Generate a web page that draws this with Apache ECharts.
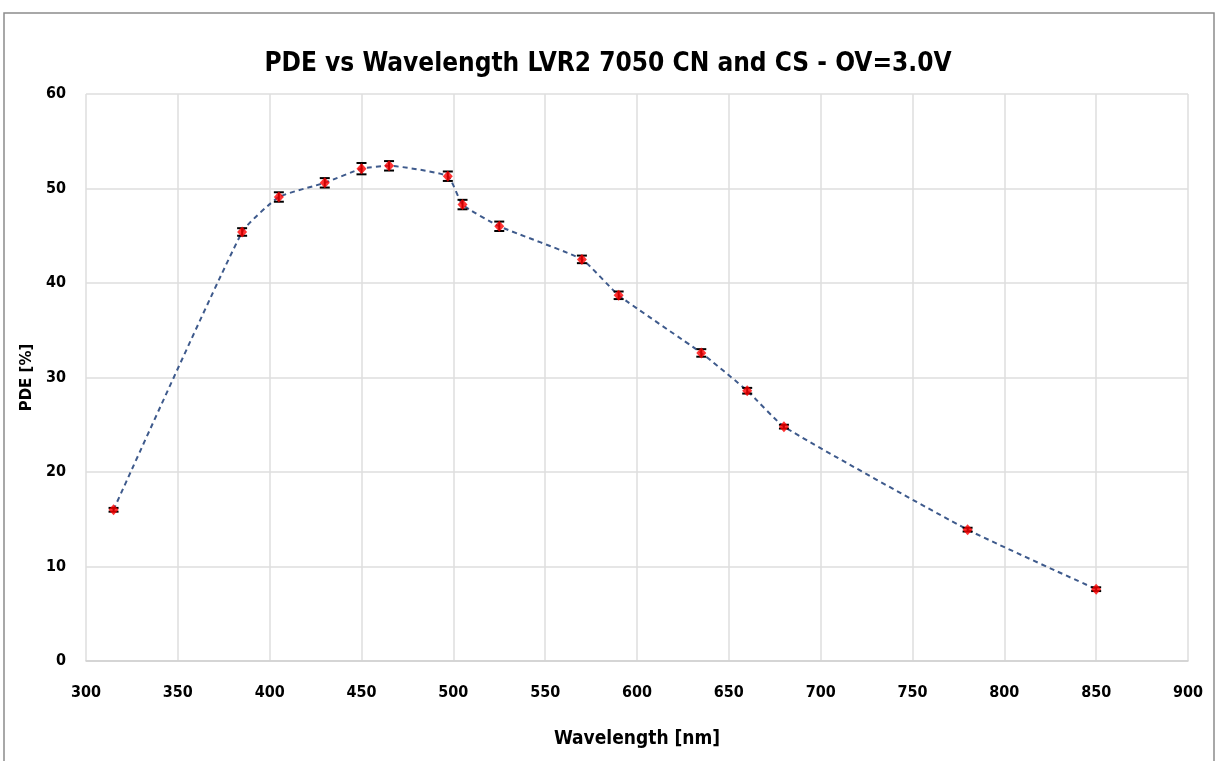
<!DOCTYPE html>
<html>
<head>
<meta charset="utf-8">
<script src="https://cdn.jsdelivr.net/npm/echarts@6/dist/echarts.min.js"></script>
<style>
html,body{margin:0;padding:0;background:#fff;}
#chart{width:1216px;height:761px;}
</style>
</head>
<body>
<div id="chart"></div>
<script>
let wavelength = [315, 385, 405, 430, 450, 465, 497, 505, 525, 570, 590, 635, 660, 680, 780, 850];
let pde = [16.0, 45.4, 49.1, 50.6, 52.1, 52.4, 51.3, 48.3, 46.0, 42.5, 38.7, 32.6, 28.6, 24.8, 13.9, 7.6];
let pdeErr = [0.2, 0.4, 0.5, 0.5, 0.6, 0.5, 0.5, 0.5, 0.5, 0.4, 0.4, 0.4, 0.3, 0.2, 0.2, 0.2];

let font = "'DejaVu Sans Condensed', 'Liberation Sans Narrow', 'Liberation Sans', sans-serif";

let pts = wavelength.map((w,i)=>[w, pde[i]]);
let errs = wavelength.map((w,i)=>[w, pde[i]-pdeErr[i], pde[i]+pdeErr[i]]);

let myChart = echarts.init(document.getElementById('chart'));
let option = {
    animation:false,
    title:{
        text:'PDE vs Wavelength LVR2 7050 CN and CS - OV=3.0V',
        left:'center',
        top:46,
        textStyle:{fontFamily:font,fontSize:26,fontWeight:'bold',color:'#000'}
    },
    graphic:[{
        type:'rect',
        shape:{x:4,y:13,width:1210,height:760},
        style:{fill:'none',stroke:'#8c8c8c',lineWidth:1.5},
        silent:true
    }],
    grid:{left:86,right:28,top:94,bottom:100},
    xAxis:{
        type:'value',
        min:300,max:900,interval:50,
        name:'Wavelength [nm]',
        nameLocation:'middle',
        nameGap:69,
        nameTextStyle:{fontFamily:font,fontSize:19,fontWeight:'bold',color:'#000'},
        axisLine:{show:true,lineStyle:{color:'#d0d0d0',width:1.5}},
        axisTick:{show:false},
        axisLabel:{fontFamily:font,fontSize:16,fontWeight:'bold',color:'#000',margin:24},
        splitLine:{show:true,lineStyle:{color:'#dedede',width:1.5}}
    },
    yAxis:{
        type:'value',
        min:0,max:60,interval:10,
        name:'PDE [%]',
        nameLocation:'middle',
        nameGap:48,
        nameTextStyle:{fontFamily:'DejaVu Sans, sans-serif',fontSize:15,fontWeight:'bold',color:'#000'},
        axisLine:{show:false},
        axisTick:{show:false},
        axisLabel:{fontFamily:font,fontSize:16,fontWeight:'bold',color:'#000',margin:20},
        splitLine:{show:true,lineStyle:{color:'#dedede',width:1.5}}
    },
    series:[{
        type:'line',
        data:pts,
        smooth:0.15,
        symbol:'none',
        lineStyle:{color:'#3e5a8c',width:2,type:[5,4]},
        z:2
    },{
        type:'custom',
        data:errs,
        z:3,
        renderItem:(params,api)=>{
            let x = api.value(0);
            let lo = api.coord([x, api.value(1)]);
            let hi = api.coord([x, api.value(2)]);
            let w = 5;
            let st = {stroke:'#000',lineWidth:2};
            return {type:'group',children:[
                {type:'line',shape:{x1:lo[0],y1:lo[1],x2:hi[0],y2:hi[1]},style:st},
                {type:'line',shape:{x1:lo[0]-w,y1:lo[1],x2:lo[0]+w,y2:lo[1]},style:st},
                {type:'line',shape:{x1:hi[0]-w,y1:hi[1],x2:hi[0]+w,y2:hi[1]},style:st}
            ]};
        }
    },{
        type:'scatter',
        data:pts,
        symbol:'diamond',
        symbolSize:[10,11],
        itemStyle:{color:'#ff0000'},
        z:4
    }]
};
myChart.setOption(option);
</script>
</body>
</html>
